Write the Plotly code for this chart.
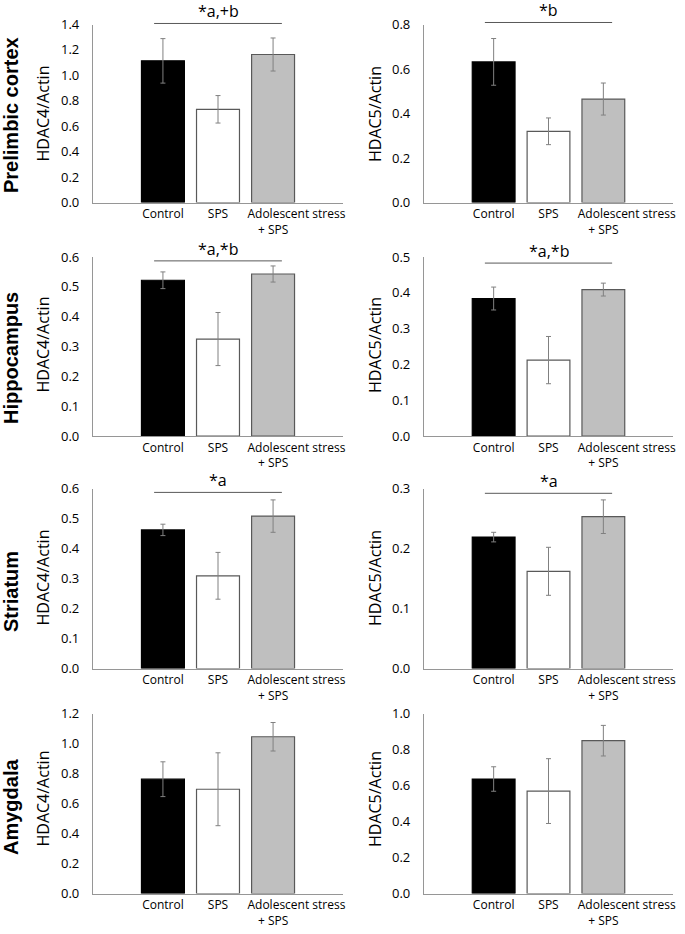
import plotly.graph_objects as go

# ---------------- data ----------------
NBSP = "\u00a0"
groups = ["Control", "SPS", NBSP * 15 + "Adolescent stress<br>+ SPS"]
regions = ["Prelimbic cortex", "Hippocampus", "Striatum", "Amygdala"]
ytitles = ["HDAC4/Actin", "HDAC5/Actin"]

pfc_hdac4 = [1.114, 0.733, 1.164]
pfc_hdac4_err = [0.175, 0.108, 0.130]
pfc_hdac5 = [0.632, 0.320, 0.465]
pfc_hdac5_err = [0.105, 0.060, 0.072]

hip_hdac4 = [0.522, 0.325, 0.543]
hip_hdac4_err = [0.028, 0.089, 0.027]
hip_hdac5 = [0.384, 0.212, 0.409]
hip_hdac5_err = [0.032, 0.066, 0.018]

str_hdac4 = [0.462, 0.309, 0.508]
str_hdac4_err = [0.019, 0.078, 0.054]
str_hdac5 = [0.219, 0.162, 0.253]
str_hdac5_err = [0.008, 0.040, 0.028]

amy_hdac4 = [0.762, 0.695, 1.045]
amy_hdac4_err = [0.116, 0.243, 0.095]
amy_hdac5 = [0.636, 0.569, 0.849]
amy_hdac5_err = [0.068, 0.180, 0.085]

panel_means = [pfc_hdac4, pfc_hdac5, hip_hdac4, hip_hdac5,
               str_hdac4, str_hdac5, amy_hdac4, amy_hdac5]
panel_errs = [pfc_hdac4_err, pfc_hdac5_err, hip_hdac4_err, hip_hdac5_err,
              str_hdac4_err, str_hdac5_err, amy_hdac4_err, amy_hdac5_err]
y_max = [1.4, 0.8, 0.6, 0.5, 0.6, 0.3, 1.2, 1.0]
y_dtick = [0.2, 0.2, 0.1, 0.1, 0.1, 0.1, 0.2, 0.2]
sig_text = ["*a,+b", "*b", "*a,*b", "*a,*b", "*a", "*a", None, None]
sig_level = [1.408, 0.809, 0.587, 0.483, 0.587, 0.292, None, None]

# ---------------- style ----------------
W, H = 685, 934
fill_colors = ["#000000", "#ffffff", "#bfbfbf"]
line_colors = ["#000000", "#595959", "#595959"]
axis_color = "#969696"
err_color = "#808080"
FONT = "Open Sans"

# pixel geometry of plot areas
x_px = [(93, 343), (424, 673)]
y_px = [(24.5, 202.5), (257, 436), (488.5, 668.5), (713.5, 893.5)]
row_label_y = [115, 358, 592, 807]
ytitle_y = [114, 345, 578, 799]
ytitle_x = [42.5, 375]

fig = go.Figure()
layout = {}
annotations = []
shapes = []

for i in range(8):
    r, c = divmod(i, 2)
    n = i + 1
    xa = "x" if n == 1 else f"x{n}"
    ya = "y" if n == 1 else f"y{n}"
    fig.add_trace(go.Bar(
        x=[0, 1, 2], y=panel_means[i],
        xaxis=xa, yaxis=ya,
        width=0.78,
        marker=dict(color=fill_colors, line=dict(color=line_colors, width=1.2)),
        error_y=dict(type="data", array=panel_errs[i], visible=True,
                     color=err_color, thickness=1, width=2.5),
        showlegend=False, hoverinfo="skip",
    ))
    x0, x1 = x_px[c]
    yt, yb = y_px[r]
    layout["xaxis" if n == 1 else f"xaxis{n}"] = dict(
        domain=[x0 / W, x1 / W], anchor=ya, range=[-1.27, 3.27],
        tickvals=[0, 1, 2], ticktext=groups, tickangle=0,
        showgrid=False, zeroline=False,
        showline=True, linecolor=axis_color, linewidth=1.2, ticks="",
        tickfont=dict(family=FONT, size=12, color="#000000"),
        fixedrange=True, automargin=False,
    )
    layout["yaxis" if n == 1 else f"yaxis{n}"] = dict(
        domain=[1 - yb / H, 1 - yt / H], anchor=xa, range=[0, y_max[i]],
        dtick=y_dtick[i], tick0=0, tickformat=".1f", showgrid=False,
        zeroline=False, showline=True, linecolor=axis_color, linewidth=1.2,
        ticks="", ticklabelstandoff=10,
        tickfont=dict(family=FONT, size=13, color="#000000"),
        fixedrange=True, automargin=False,
    )
    # y title
    annotations.append(dict(
        text=ytitles[c], x=ytitle_x[c] / W, y=1 - ytitle_y[r] / H,
        xref="paper", yref="paper", textangle=-90, showarrow=False,
        xanchor="center", yanchor="middle",
        font=dict(family=FONT, size=16, color="#000000"),
    ))
    # significance bracket (placed relative to the y domain so it may sit
    # slightly above the top of the axis range)
    if sig_text[i]:
        frac = sig_level[i] / y_max[i]
        shapes.append(dict(type="line", xref=xa, yref=f"{ya} domain",
                           x0=-0.16, x1=2.16, y0=frac, y1=frac,
                           line=dict(color="#595959", width=1)))
        annotations.append(dict(
            text=sig_text[i], x=1, y=frac, xref=xa, yref=f"{ya} domain",
            showarrow=False, xanchor="center", yanchor="bottom", yshift=0,
            borderpad=0,
            font=dict(family=FONT, size=16, color="#000000"),
        ))

for r, name in enumerate(regions):
    annotations.append(dict(
        text=f"<b>{name}</b>", x=11 / W, y=1 - row_label_y[r] / H,
        xref="paper", yref="paper", textangle=-90, showarrow=False,
        xanchor="center", yanchor="middle",
        font=dict(family="Liberation Sans", size=20, color="#000000"),
    ))

fig.update_layout(
    width=W, height=H,
    margin=dict(l=0, r=0, t=0, b=0, pad=0, autoexpand=False),
    paper_bgcolor="#ffffff", plot_bgcolor="#ffffff",
    bargap=0.2, annotations=annotations, shapes=shapes,
    **layout,
)

fig.write_html(
    "out.html",
    config={"displayModeBar": False},
    post_script="document.body.style.margin='0';document.body.style.padding='0';",
)
